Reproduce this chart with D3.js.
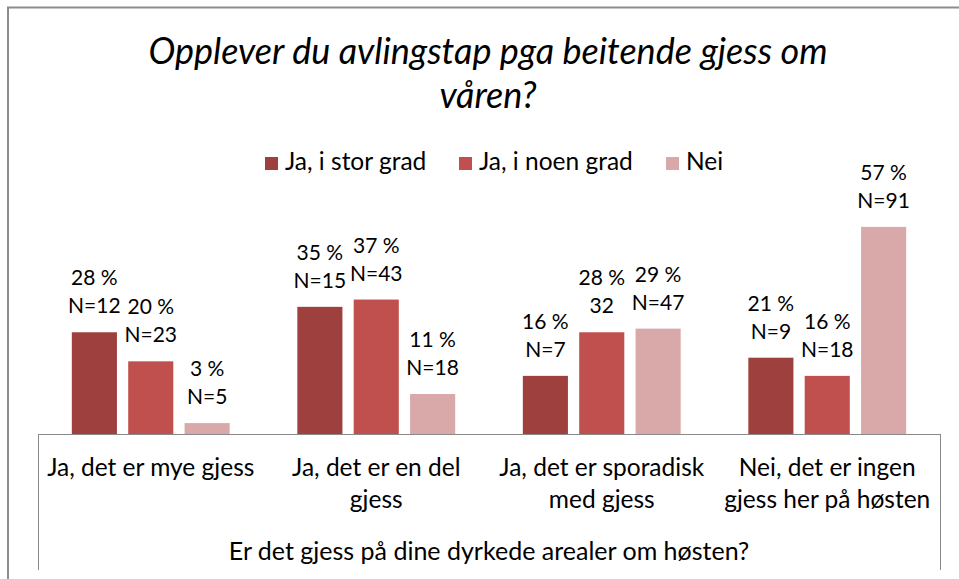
<!DOCTYPE html>
<html>
<head>
<meta charset="utf-8">
<script src="https://cdn.jsdelivr.net/npm/d3@7"></script>
<style>
  body { margin: 0; background: #fff; }
  text { font-family: Lato, "Open Sans", sans-serif; fill: #000; }
</style>
</head>
<body>
<div id="chart"></div>
<script>
// data
var categories = ["Ja, det er mye gjess", "Ja, det er en del\ngjess", "Ja, det er sporadisk\nmed gjess", "Nei, det er ingen\ngjess her på høsten"];
var seriesNames = ["Ja, i stor grad", "Ja, i noen grad", "Nei"];
var storGrad = [28, 35, 16, 21];
var noenGrad = [20, 37, 28, 16];
var nei = [3, 11, 29, 57];
var nStorGrad = ["N=12", "N=15", "N=7", "N=9"];
var nNoenGrad = ["N=23", "N=43", "32", "N=18"];
var nNei = ["N=5", "N=18", "N=47", "N=91"];
var titleLines = ["Opplever du avlingstap pga beitende gjess om", "våren?"];
var axisTitle = "Er det gjess på dine dyrkede arealer om høsten?";

var colors = ["#9e413e", "#c0504d", "#d9a8a8"];

var svgWidth = 959, svgHeight = 579;

var svg = d3.select("#chart").append("svg")
  .attr("width", svgWidth)
  .attr("height", svgHeight);

svg.append("rect").attr("width", svgWidth).attr("height", svgHeight).attr("fill", "#fff");

// chart frame (runs off the right and bottom edge)
svg.append("rect")
  .attr("x", 8).attr("y", 7.5)
  .attr("width", 1000).attr("height", 700)
  .attr("fill", "none")
  .attr("stroke", "#8c8c8c")
  .attr("stroke-width", 2);

// title
svg.append("g").selectAll("text")
  .data(titleLines)
  .enter()
  .append("text")
  .attr("x", 488)
  .attr("y", (d, i) => 63.5 + i * 44.5)
  .attr("text-anchor", "middle")
  .attr("font-size", 36)
  .attr("font-style", "italic")
  .text(d => d);

// legend
var legendX = [265, 459, 666];
var legend = svg.append("g").selectAll("g")
  .data(seriesNames)
  .enter()
  .append("g")
  .attr("transform", (d, i) => `translate(${legendX[i]}, 157)`);
legend.append("rect")
  .attr("width", 13).attr("height", 13)
  .attr("fill", (d, i) => colors[i]);
legend.append("text")
  .attr("x", 20).attr("y", 12.5)
  .attr("font-size", 24.5)
  .text(d => d);

// scales
var x0 = d3.scaleBand().domain(categories).range([38, 940]);
var x1 = d3.scaleBand().domain(seriesNames).range([0, x0.bandwidth()])
  .paddingInner(0.2).paddingOuter(0.6);
var y = d3.scaleLinear().domain([0, 60]).range([434, 216]);

var rows = categories.map(function(c, i) {
  return {
    cat: c,
    vals: [
      { s: seriesNames[0], v: storGrad[i], n: nStorGrad[i], k: 0 },
      { s: seriesNames[1], v: noenGrad[i], n: nNoenGrad[i], k: 1 },
      { s: seriesNames[2], v: nei[i], n: nNei[i], k: 2 }
    ]
  };
});

var groups = svg.append("g").selectAll("g")
  .data(rows)
  .enter()
  .append("g")
  .attr("transform", d => `translate(${x0(d.cat)}, 0)`);

groups.selectAll("rect")
  .data(d => d.vals)
  .enter()
  .append("rect")
  .attr("x", d => x1(d.s))
  .attr("y", d => y(d.v))
  .attr("width", x1.bandwidth())
  .attr("height", d => y(0) - y(d.v))
  .attr("fill", d => colors[d.k]);

// data labels: percent and N
groups.selectAll("text.pct")
  .data(d => d.vals)
  .enter()
  .append("text")
  .attr("class", "pct")
  .attr("x", d => x1(d.s) + x1.bandwidth() / 2)
  .attr("y", d => y(d.v) - 47)
  .attr("text-anchor", "middle")
  .attr("font-size", 21)
  .text(d => d.v + " %");

groups.selectAll("text.num")
  .data(d => d.vals)
  .enter()
  .append("text")
  .attr("class", "num")
  .attr("x", d => x1(d.s) + x1.bandwidth() / 2)
  .attr("y", d => y(d.v) - 19)
  .attr("text-anchor", "middle")
  .attr("font-size", 21)
  .text(d => d.n);

// category axis
var axisColor = "#8a8a8a";
var xr = x0.range();
svg.append("line")
  .attr("x1", xr[0]).attr("x2", xr[1])
  .attr("y1", y(0) + 0.5).attr("y2", y(0) + 0.5)
  .attr("stroke", axisColor);
svg.append("g").selectAll("line")
  .data(xr)
  .enter()
  .append("line")
  .attr("x1", d => d + 0.5).attr("x2", d => d + 0.5)
  .attr("y1", y(0)).attr("y2", 570)
  .attr("stroke", axisColor);

var catLabels = svg.append("g").selectAll("text")
  .data(categories)
  .enter()
  .append("text")
  .attr("x", d => x0(d) + x0.bandwidth() / 2)
  .attr("y", 476)
  .attr("text-anchor", "middle")
  .attr("font-size", 24.5);
catLabels.selectAll("tspan")
  .data(d => d.split("\n"))
  .enter()
  .append("tspan")
  .attr("x", function() { return d3.select(this.parentNode).attr("x"); })
  .attr("dy", (d, i) => i === 0 ? 0 : 32)
  .text(d => d);

svg.append("text")
  .attr("x", (xr[0] + xr[1]) / 2)
  .attr("y", 560)
  .attr("text-anchor", "middle")
  .attr("font-size", 25)
  .text(axisTitle);
</script>
</body>
</html>
